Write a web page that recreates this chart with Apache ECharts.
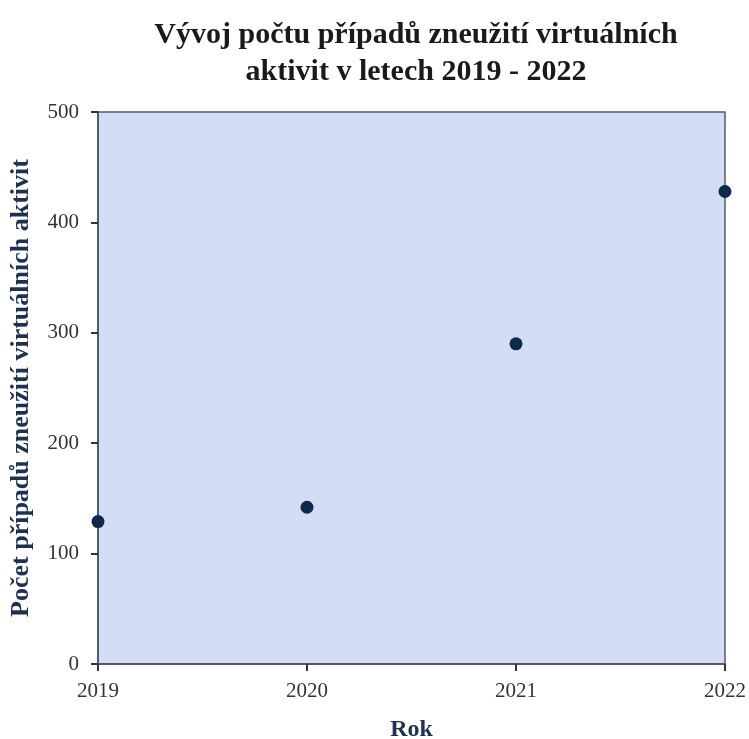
<!DOCTYPE html>
<html>
<head>
<meta charset="utf-8">
<script src="https://cdn.jsdelivr.net/npm/echarts@6/dist/echarts.min.js"></script>
<style>
  html, body { margin: 0; padding: 0; background: #fff; }
  #chart { width: 749px; height: 739px; }
</style>
</head>
<body>
<div id="chart"></div>
<script>
// data
const years = [2019, 2020, 2021, 2022];
const cases = [129, 142, 290, 428];
const yTicks = [0, 100, 200, 300, 400, 500];

const serif = '"Liberation Serif", "DejaVu Serif", serif';
const navy = '#1f3050';

const chart = echarts.init(document.getElementById('chart'));

chart.setOption({
  animation: false,
  title: {
    text: 'Vývoj počtu případů zneužití virtuálních\naktivit v letech 2019 - 2022',
    left: 411,
    textAlign: 'center',
    top: 12,
    textStyle: {
      fontFamily: serif,
      fontSize: 30,
      fontWeight: 'bold',
      color: '#1a1a1a',
      lineHeight: 37
    }
  },
  grid: {
    left: 98,
    right: 24,
    top: 112,
    bottom: 75,
    outerBoundsMode: 'none',
    containLabel: false,
    show: true,
    backgroundColor: '#d3ddf5',
    borderColor: '#555a63',
    borderWidth: 1.5
  },
  xAxis: {
    type: 'value',
    min: years[0],
    max: years[years.length - 1],
    interval: 1,
    name: 'Rok',
    nameLocation: 'middle',
    nameGap: 54,
    nameTextStyle: {
      fontFamily: serif,
      fontSize: 24,
      fontWeight: 'bold',
      color: navy
    },
    axisLine: { show: true, lineStyle: { color: '#555a63', width: 2 } },
    axisTick: { show: true, length: 7, lineStyle: { color: '#333', width: 2 } },
    axisLabel: {
      fontFamily: serif,
      fontSize: 21,
      color: '#333',
      margin: 17,
      formatter: v => String(v)
    },
    splitLine: { show: false }
  },
  yAxis: {
    type: 'value',
    min: yTicks[0],
    max: yTicks[yTicks.length - 1],
    interval: 100,
    name: 'Počet případů zneužití virtuálních aktivit',
    nameLocation: 'middle',
    nameGap: 64,
    nameTextStyle: {
      fontFamily: serif,
      fontSize: 26,
      fontWeight: 'bold',
      color: navy
    },
    axisLine: { show: true, lineStyle: { color: '#555a63', width: 2 } },
    axisTick: { show: true, length: 7, lineStyle: { color: '#333', width: 2 } },
    axisLabel: {
      fontFamily: serif,
      fontSize: 21,
      color: '#333',
      margin: 19
    },
    splitLine: { show: false }
  },
  series: [
    {
      type: 'scatter',
      data: years.map((y, i) => [y, cases[i]]),
      symbol: 'circle',
      symbolSize: 13,
      itemStyle: { color: '#0d2a4a', opacity: 1 },
      clip: false,
      z: 5
    }
  ]
});
</script>
</body>
</html>
